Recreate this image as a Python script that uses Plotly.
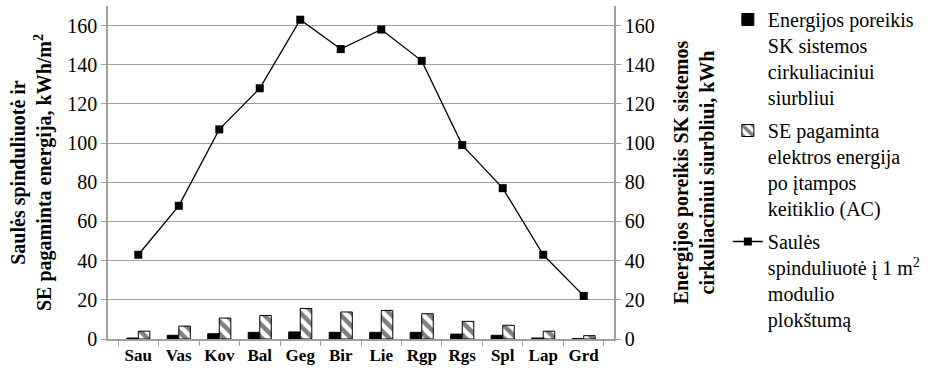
import plotly.graph_objects as go

months = ["Sau", "Vas", "Kov", "Bal", "Geg", "Bir", "Lie", "Rgp", "Rgs", "Spl", "Lap", "Grd"]
demand = [0.5, 1.9, 2.7, 3.4, 3.6, 3.4, 3.4, 3.4, 2.5, 1.9, 0.5, 0.2]
produced = [4.0, 6.6, 10.7, 12.0, 15.6, 13.8, 14.6, 12.9, 9.0, 7.0, 4.0, 1.7]
radiation = [43, 68, 107, 128, 163, 148, 158, 142, 99, 77, 43, 22]
yticks = [0, 20, 40, 60, 80, 100, 120, 140, 160]

FONT = "'Liberation Serif', 'Times New Roman', serif"

fig = go.Figure()
fig.add_trace(go.Bar(
    x=months, y=demand, name="Energijos poreikis<br>SK sistemos<br>cirkuliaciniui<br>siurbliui",
    marker=dict(color="black", line=dict(color="black", width=1)),
    legendgroup="a", yaxis="y",
))
fig.add_trace(go.Bar(
    x=months, y=produced, name="SE pagaminta<br>elektros energija<br>po įtampos<br>keitiklio (AC)",
    marker=dict(color="white", line=dict(color="black", width=1),
                pattern=dict(shape="\\", fgcolor="black", bgcolor="white", size=9, solidity=0.5)),
    legendgroup="b", yaxis="y",
))
fig.add_trace(go.Scatter(
    x=months, y=radiation, name="Saulės<br>spinduliuotė į 1 m<sup>2</sup><br>modulio<br>plokštumą",
    mode="lines+markers", line=dict(color="black", width=1.3),
    marker=dict(symbol="square", size=8, color="black"),
    legendgroup="c", yaxis="y2",
))

fig.update_layout(
    width=945, height=376,
    margin=dict(l=108, r=331, t=6, b=37, autoexpand=False),
    plot_bgcolor="white", paper_bgcolor="white",
    font=dict(family=FONT, size=20, color="black"),
    barmode="group", bargap=0.43, bargroupgap=0,
    showlegend=True,
    legend=dict(x=1.225, xanchor="left", yref="container", y=1.0, yanchor="top", valign="top",
                traceorder="grouped", tracegroupgap=4, maxheight=376,
                font=dict(family=FONT, size=20, color="black"),
                itemwidth=30, bgcolor="rgba(0,0,0,0)"),
    xaxis=dict(
        type="category", tickson="boundaries", ticks="outside", ticklen=5,
        tickcolor="#a0a0a0", showline=True, linecolor="#a0a0a0", linewidth=1.5,
        tickfont=dict(family=FONT, size=17, color="black", weight="bold"),
        tickangle=0, automargin=False, showgrid=False,
    ),
    yaxis=dict(
        range=[0, 170], tickvals=yticks, ticks="outside", ticklen=5, tickcolor="#a0a0a0",
        showline=True, linecolor="#a0a0a0", linewidth=1.5,
        showgrid=True, gridcolor="#a0a0a0", gridwidth=1.3, zeroline=False,
        tickfont=dict(family=FONT, size=20, color="black"),
        title=dict(text="Saulės spinduliuotė ir<br>SE pagaminta energija, kWh/m<sup>2</sup>",
                   font=dict(family=FONT, size=20, color="black", weight="bold"), standoff=10),
    ),
    yaxis2=dict(
        overlaying="y", side="right", range=[0, 170], tickvals=yticks,
        ticks="outside", ticklen=5, tickcolor="#a0a0a0",
        showline=True, linecolor="#a0a0a0", linewidth=1.5,
        showgrid=False, zeroline=False,
        tickfont=dict(family=FONT, size=20, color="black"),
        title=dict(text="Energijos poreikis SK sistemos<br>cirkuliaciniui siurbliui, kWh",
                   font=dict(family=FONT, size=20, color="black", weight="bold"), standoff=20),
    ),
)

fig.write_html("out.html")
